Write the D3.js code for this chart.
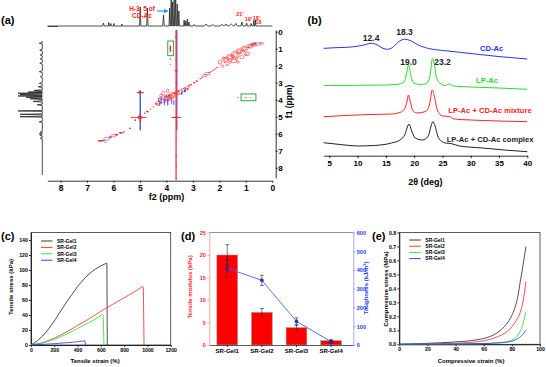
<!DOCTYPE html>
<html>
<head>
<meta charset="utf-8">
<script src="https://cdn.jsdelivr.net/npm/d3@7"></script>
<style>
body { margin: 0; background: #fff; }
svg { font-family: "Liberation Sans", Arial, sans-serif; font-weight: bold; }
</style>
</head>
<body>
<svg id="fig" width="546" height="367"></svg>
<script>
// ---------- data ----------
// (a) 1H NMR projections: [ppm, height, half width]
var a_top_peaks = [
	[6.38,3,0.03],[6.18,3.5,0.02],[6.10,2.5,0.02],[5.98,2.5,0.02],[5.68,2,0.02],
	[4.99,19,0.025],[4.72,18,0.025],[4.11,11,0.03],
	[3.88,18,0.02],[3.82,27,0.02],[3.77,24,0.02],[3.71,27,0.02],[3.65,27,0.02],[3.59,22,0.02],[3.53,15,0.02],
	[3.33,6,0.02],[3.27,5,0.02],[3.21,7,0.02],[3.15,4,0.02],
	[2.95,1.5,0.04],[2.50,2,0.06],[2.25,1.5,0.06],[1.90,1.5,0.08],[1.75,2,0.06],[1.55,2,0.08],
	[1.38,2.5,0.06],[1.15,4,0.04],[0.97,3,0.03],[0.80,2.5,0.03],[0.70,5.5,0.02],[0.64,6,0.02]
];
var a_left_peaks = [
	[0.68,3,0.04],[1.08,2.5,0.05],[1.37,2,0.05],[1.60,2,0.05],[1.86,2.5,0.05],[2.35,3,0.05],[2.65,2,0.05],
	[3.04,3,0.05],[3.24,4,0.04],[3.45,8,0.04],[3.55,14,0.04],[3.62,24,0.04],[3.70,22,0.04],[3.78,24,0.04],
	[3.86,16,0.04],[3.95,12,0.04],[4.10,9,0.04],[4.30,5,0.04],[4.66,24,0.03],[4.86,22,0.03],[5.00,22,0.03],
	[5.30,3,0.04],[5.90,2,0.04],[6.00,3,0.04],[6.10,2.5,0.04],[6.27,2,0.04]
];
// (a) COSY cross peaks: [f2, f1, rx, ry, style]  r/b filled, R/B contour
var cosy_blobs = [
	[6.50,6.42,0.10,0.05,'r'],[6.38,6.40,0.07,0.05,'b'],[6.25,6.30,0.12,0.08,'R'],[6.12,6.20,0.07,0.05,'b'],
	[6.00,6.12,0.10,0.07,'R'],[5.88,6.05,0.07,0.05,'r'],[5.72,5.95,0.08,0.05,'r'],[5.60,5.90,0.04,0.04,'b'],
	[6.30,6.50,0.03,0.03,'b'],[5.38,5.68,0.035,0.05,'r'],[5.18,5.20,0.035,0.05,'r'],
	[5.00,5.04,0.10,0.08,'r'],[5.00,3.57,0.07,0.07,'r'],[5.00,3.57,0.03,0.04,'b'],[4.72,4.70,0.05,0.05,'r'],
	[4.82,4.80,0.03,0.04,'b'],[4.60,4.55,0.03,0.03,'r'],[4.49,4.41,0.03,0.03,'r'],
	[4.40,4.25,0.05,0.04,'r'],[4.30,4.18,0.10,0.07,'R'],[4.15,4.08,0.12,0.10,'R'],[4.00,3.95,0.14,0.12,'R'],
	[3.88,3.82,0.15,0.14,'R'],[3.75,3.72,0.13,0.15,'R'],[3.50,3.55,0.12,0.12,'R'],[3.36,3.42,0.10,0.08,'R'],
	[3.22,3.30,0.10,0.06,'R'],[4.12,3.62,0.06,0.12,'R'],[3.95,3.48,0.05,0.10,'R'],[3.85,3.95,0.06,0.08,'R'],
	[4.22,3.90,0.05,0.06,'R'],[3.88,3.82,0.08,0.08,'R'],[4.00,3.95,0.07,0.06,'R'],[3.75,3.72,0.07,0.08,'R'],
	[3.60,3.62,0.10,0.10,'R'],[4.30,4.30,0.06,0.05,'R'],[3.30,3.35,0.06,0.05,'R'],[4.20,3.75,0.05,0.08,'R'],
	[4.20,4.05,0.02,0.22,'b'],[4.08,4.10,0.02,0.25,'b'],[3.95,4.15,0.025,0.22,'b'],[3.80,4.10,0.02,0.20,'b'],
	[4.30,4.00,0.02,0.12,'b'],[3.42,3.62,0.03,0.10,'b'],[3.30,3.50,0.04,0.08,'b'],[3.20,3.40,0.03,0.06,'b'],
	[4.25,4.20,0.02,0.15,'b'],[3.72,4.15,0.02,0.18,'b'],[4.02,3.80,0.06,0.04,'B'],
	[3.70,3.62,0.05,0.04,'r'],[3.55,3.50,0.05,0.04,'r'],[4.05,4.02,0.04,0.04,'r'],[3.90,3.78,0.05,0.05,'r'],
	[3.15,3.18,0.04,0.04,'r'],[3.08,3.12,0.05,0.04,'r'],[2.95,3.00,0.05,0.04,'r'],[2.85,2.90,0.05,0.04,'r'],
	[2.72,2.76,0.04,0.03,'r'],[2.65,2.68,0.04,0.03,'r'],[2.55,2.58,0.10,0.06,'R'],[2.45,2.47,0.11,0.07,'R'],
	[2.38,2.40,0.04,0.03,'r'],[2.30,2.32,0.04,0.03,'r'],[2.22,2.25,0.04,0.03,'r'],[2.15,2.20,0.04,0.03,'r'],
	[2.08,2.10,0.04,0.03,'r'],
	[1.98,1.78,0.07,0.12,'R'],[1.88,2.02,0.06,0.07,'R'],[1.75,1.65,0.12,0.15,'R'],[1.60,1.50,0.15,0.16,'R'],
	[1.45,1.72,0.10,0.10,'R'],[1.40,1.35,0.15,0.20,'R'],[1.25,1.15,0.12,0.15,'R'],[1.15,1.50,0.08,0.10,'R'],
	[1.05,1.00,0.13,0.15,'R'],[0.95,1.30,0.10,0.10,'R'],[0.85,0.85,0.12,0.12,'R'],[0.70,0.75,0.12,0.10,'R'],
	[0.55,0.72,0.12,0.08,'R'],[0.40,0.68,0.08,0.05,'R'],[1.30,1.78,0.06,0.06,'R'],[1.70,1.95,0.05,0.05,'R'],
	[1.50,1.45,0.06,0.07,'R'],[1.10,1.12,0.06,0.07,'R'],
	[1.60,1.50,0.08,0.09,'R'],[1.40,1.35,0.08,0.11,'R'],[1.05,1.00,0.07,0.08,'R'],[0.85,0.85,0.06,0.06,'R'],
	[1.75,1.65,0.06,0.08,'R'],[1.25,1.15,0.06,0.08,'R'],[0.70,0.75,0.06,0.05,'R'],[1.85,1.55,0.05,0.06,'R'],
	[1.60,1.80,0.05,0.06,'R'],[1.35,1.60,0.05,0.06,'R'],[1.00,1.35,0.05,0.05,'R'],
	[1.80,1.80,0.03,0.03,'r'],[1.50,1.55,0.03,0.03,'r'],[1.20,1.25,0.03,0.03,'r'],[0.90,0.92,0.04,0.04,'r'],
	[0.65,0.70,0.05,0.04,'r'],[0.75,0.76,0.06,0.04,'b'],[0.68,0.68,0.04,0.03,'b'],
	[3.63,0.30,0.04,0.05,'r'],[3.63,1.70,0.03,0.04,'r'],[3.63,2.30,0.08,0.03,'r'],[3.63,3.00,0.03,0.03,'r'],
	[3.63,6.20,0.03,0.03,'r'],[3.63,7.30,0.03,0.03,'b'],[3.63,7.90,0.03,0.04,'r'],[3.63,5.04,0.20,0.035,'r'],
	[3.85,1.00,0.03,0.20,'r'],[3.85,1.60,0.025,0.04,'r'],[3.85,1.95,0.02,0.03,'r'],
	[1.00,3.86,0.06,0.025,'r'],[0.82,3.86,0.04,0.025,'r'],[1.30,3.86,0.04,0.02,'r']
];
// [f2 start, f1 start, f2 end, f1 end, colour, width]
var cosy_lines = [
	[3.605,-0.1,3.605,5.8,'#2233ff',1.0],
	[3.635,-0.1,3.635,8.75,'#ff2222',1.2],
	[4.99,3.45,4.99,5.8,'#2233ff',1.2],
	[5.35,5.04,4.75,5.04,'#ff2222',0.9],
	[5.12,3.58,4.85,3.58,'#ff2222',0.9],
	[5.00,4.85,5.00,5.30,'#ff2222',0.9]
];
// green boxes [f2 left, f2 right, f1 top, f1 bottom]
var cosy_boxes = [[3.95,3.73,0.55,1.41],[1.18,0.62,3.66,4.06]];
var a_ticks = [8,7,6,5,4,3,2,1,0];

// (b) XRD patterns: [2theta, intensity (a.u., stacked)]
var xrd_cd = [[4,82.8],[6,83.3],[8,83.6],[10,84.4],[11.3,85.6],[12.4,86.7],[13.5,85.4],[14.5,82.8],[15.2,82.1],
	[16.2,83.5],[17.2,87.7],[18.3,89.8],[19.5,88.5],[20.7,85.4],[22.5,82.8],[25.4,81],[28,79.8],[31.3,78.2],[35,76.5],[40,74.6]];
var xrd_lp = [[4,54.1],[10,54.4],[15,54.6],[17,55.1],[18.2,56.9],[18.6,62.3],[19.0,70],[19.4,62.3],[19.9,56.2],[21,55],
	[22,55.4],[22.6,58.5],[23.0,67.7],[23.2,75],[23.5,72.3],[23.9,61.5],[24.5,56.2],[25.5,54.2],[26.2,55.4],[27,53.8],
	[30,53.1],[35,52.3],[40,51.3]];
var xrd_mix = [[4,30.2],[8,31.2],[12,31.9],[16,32.3],[17.5,33.5],[18.4,36.9],[18.7,41.5],[19.0,46.9],[19.3,42.3],[19.7,35.4],
	[20.5,33.1],[22,34.2],[22.7,39.2],[23.2,50.8],[23.6,45.4],[24.1,35.4],[25,30.8],[26.2,30.4],[27,28.5],[30,27.7],[35,26.9],[40,26.4]];
var xrd_cx = [[4,10.2],[7,8.8],[10,7.7],[13,8.1],[16,10],[17.5,12.3],[18.4,16.9],[18.8,22.3],[19.1,24.6],[19.5,20],[20.2,13.8],
	[21.5,12.3],[22.5,15.4],[23.0,23.1],[23.3,26.4],[23.7,23.1],[24.3,13.8],[25.5,10],[26.5,9.6],[28,7.7],[32,6.2],[36,4.6],[40,3.3]];
var xrd_names = ['CD-Ac','LP-Ac','LP-Ac + CD-Ac mixture','LP-Ac + CD-Ac complex'];
var xrd_peaks = [[12.4,86.7,'12.4'],[18.3,89.8,'18.3'],[19.0,70,'19.0'],[23.2,75,'23.2']];
var b_ticks = [5,10,15,20,25,30,35,40];

// (c) tensile curves [strain %, stress kPa]
var ten1 = [[0,0],[50,5],[100,12],[150,21],[200,32],[250,44],[300,56],[350,67],[400,78],[450,87],[500,95],[550,101],[600,105.5],[640,108.5],[652,109],[655,0]];
var ten2 = [[0,0],[100,3],[200,9],[300,17],[400,26],[500,35],[600,45],[700,54],[800,63],[900,72],[959,78],[965,77],[971,0]];
var ten3 = [[0,0],[100,2.5],[200,7.5],[300,14],[400,22],[500,30],[580,37],[613,41],[620,40],[627,0]];
var ten4 = [[0,0],[100,0.8],[200,1.8],[300,3],[400,4.3],[455,5.6],[462,5.5],[470,0]];
var gel_names = ['SR-Gel1','SR-Gel2','SR-Gel3','SR-Gel4'];
var c_xticks = [0,200,400,600,800,1000,1200];
var c_yticks = [0,20,40,60,80,100,120,140];

// (d) modulus and toughness
var modulus = [20.0, 7.25, 3.85, 0.96];
var modulus_err = [2.3, 0.85, 0.6, 0.2];
var toughness = [409, 345, 126, 18];
var toughness_err = [45, 27, 19, 8];
var d_lticks = [0,5,10,15,20,25];
var d_rticks = [0,100,200,300,400,500,600];

// (e) compression curves [strain %, stress MPa]
var comp1 = [[0,0],[10,0.003],[20,0.007],[30,0.011],[40,0.017],[50,0.025],[55,0.032],[60,0.042],[65,0.058],[70,0.085],[75,0.13],[78,0.17],[81,0.23],[84,0.33],[86,0.45],[88,0.57],[90,0.70]];
var comp2 = [[0,0],[20,0.003],[40,0.008],[50,0.013],[60,0.025],[65,0.037],[70,0.055],[75,0.08],[80,0.125],[83,0.17],[86,0.23],[88,0.31],[90,0.45]];
var comp3 = [[0,0],[40,0.002],[60,0.005],[70,0.01],[75,0.016],[80,0.03],[83,0.05],[86,0.095],[88,0.15],[90,0.235]];
var comp4 = [[0,0],[40,0.002],[60,0.006],[70,0.01],[76,0.015],[80,0.023],[84,0.04],[87,0.062],[90,0.1]];
var e_xticks = [0,20,40,60,80,100];
var e_yticks = [0,0.1,0.2,0.3,0.4,0.5,0.6,0.7,0.8];

// ---------- drawing ----------
var RED = '#ff2222', BLUE = '#2233ff', GREEN = '#22e022', BLK = '#222222';
var gel_colors = [BLK, RED, GREEN, BLUE];
var svg = d3.select('#fig');

function style_axis(g, fs, color, line_color)
{
	g.attr('font-size', fs).attr('font-family', null);
	g.selectAll('path, line').attr('stroke', line_color || color || '#000').attr('stroke-width', 0.8);
	g.selectAll('text').attr('fill', color || '#000');
}

function panel_label(x, y, t)
{
	svg.append('text').attr('x', x).attr('y', y).attr('font-size', 11).text(t);
}

function spectrum_points(peaks, lo, hi)
{
	var pts = [[hi, 0]];
	peaks.slice().sort(function(a, b) { return b[0] - a[0]; }).forEach(function(p) {
		pts.push([p[0] + p[2], 0], [p[0], p[1]], [p[0] - p[2], 0]);
	});
	pts.push([lo, 0]);
	return pts;
}

// ----- (a) -----
panel_label(1, 24, '(a)');
var a_x = d3.scaleLinear().domain([8.5, 0]).range([47.3, 272.3]);
var a_y = d3.scaleLinear().domain([0, 8]).range([31.7, 167.7]);
var a_top = d3.scaleLinear().domain([0, 26]).range([26, 0]);
var a_left = d3.scaleLinear().domain([0, 24]).range([42.3, 18]);

svg.append('path')
	.datum(spectrum_points(a_top_peaks, 0, 8.5))
	.attr('d', d3.line().x(function(d) { return a_x(d[0]); }).y(function(d) { return a_top(d[1]); }))
	.attr('fill', 'none').attr('stroke', BLK).attr('stroke-width', 0.8);

svg.append('path')
	.datum(spectrum_points(a_left_peaks, 0.55, 8.43).reverse())
	.attr('d', d3.line().x(function(d) { return a_left(d[1]); }).y(function(d) { return a_y(d[0]); }))
	.attr('fill', 'none').attr('stroke', BLK).attr('stroke-width', 0.8);

svg.append('line').attr('x1', 48).attr('x2', 58).attr('y1', 26.5).attr('y2', 26.5).attr('stroke', BLK).attr('stroke-width', 0.8);

svg.append('clipPath').attr('id', 'clip_a').append('rect')
	.attr('x', a_x(8.5)).attr('y', a_y(-0.12)).attr('width', a_x(0) - a_x(8.5)).attr('height', a_y(8.75) - a_y(-0.12));
var cosy = svg.append('g').attr('clip-path', 'url(#clip_a)');

cosy.selectAll('line.noise').data(cosy_lines).enter().append('line')
	.attr('x1', function(d) { return a_x(d[0]); }).attr('y1', function(d) { return a_y(d[1]); })
	.attr('x2', function(d) { return a_x(d[2]); }).attr('y2', function(d) { return a_y(d[3]); })
	.attr('stroke', function(d) { return d[4]; }).attr('stroke-width', function(d) { return d[5]; });

var px_f2 = Math.abs(a_x(1) - a_x(0)), px_f1 = a_y(1) - a_y(0);
cosy.selectAll('ellipse').data(cosy_blobs).enter().append('ellipse')
	.attr('cx', function(d) { return a_x(d[0]); })
	.attr('cy', function(d) { return a_y(d[1]); })
	.attr('rx', function(d) { return d[2] * px_f2; })
	.attr('ry', function(d) { return d[3] * px_f1; })
	.attr('fill', function(d) { return d[4] == 'r' ? RED : d[4] == 'b' ? BLUE : 'none'; })
	.attr('stroke', function(d) { return d[4] == 'R' ? '#ff3333' : d[4] == 'B' ? BLUE : 'none'; })
	.attr('stroke-width', 0.6)
	.attr('opacity', function(d) { return d[4] == 'b' ? 0.8 : 1; });

cosy.selectAll('rect.box').data(cosy_boxes).enter().append('rect')
	.attr('x', function(d) { return a_x(d[0]); }).attr('y', function(d) { return a_y(d[2]); })
	.attr('width', function(d) { return a_x(d[1]) - a_x(d[0]); }).attr('height', function(d) { return a_y(d[3]) - a_y(d[2]); })
	.attr('fill', 'none').attr('stroke', '#2aa84a').attr('stroke-width', 1);

var ax_a = svg.append('g').attr('transform', 'translate(0,180.7)')
	.call(d3.axisBottom(a_x).tickValues(a_ticks).tickFormat(d3.format('d')).tickSize(2).tickPadding(2).tickSizeOuter(0));
style_axis(ax_a, 8.5);
var a_y_ax = d3.scaleLinear().domain([-0.1, 8.6]).range([a_y(-0.1), a_y(8.6)]);
var ay_a = svg.append('g').attr('transform', 'translate(275.7,0)')
	.call(d3.axisRight(a_y_ax).tickValues(a_ticks.slice().reverse()).tickFormat(d3.format('d')).tickSize(2).tickPadding(0.5).tickSizeOuter(0));
style_axis(ay_a, 8);
svg.append('text').attr('x', a_x(4)).attr('y', 199.5).attr('text-anchor', 'middle').attr('font-size', 9).text('f2 (ppm)');
svg.append('text').attr('transform', 'translate(291.5,' + a_y(4.1) + ') rotate(-90)').attr('text-anchor', 'middle').attr('font-size', 8.5).text('f1 (ppm)');

svg.append('text').attr('x', 142).attr('y', 11).attr('text-anchor', 'middle').attr('font-size', 6.5).attr('fill', RED).text('H-3, 5 of');
svg.append('text').attr('x', 142).attr('y', 17.5).attr('text-anchor', 'middle').attr('font-size', 6.5).attr('fill', RED).text('CD-Ac');
svg.append('defs').append('marker').attr('id', 'arr').attr('viewBox', '0 0 6 6').attr('refX', 5).attr('refY', 3)
	.attr('markerWidth', 4).attr('markerHeight', 4).attr('orient', 'auto')
	.append('path').attr('d', 'M0,0L6,3L0,6Z').attr('fill', '#1ea0e6');
svg.append('line').attr('x1', a_x(4.35)).attr('x2', a_x(3.95)).attr('y1', 11).attr('y2', 11)
	.attr('stroke', '#1ea0e6').attr('stroke-width', 1.2).attr('marker-end', 'url(#arr)');
[["21'", 240, 15.5], ["19'", 248.5, 20.5], ["18'", 256.5, 19.5], ['18', 258.5, 24]].forEach(function(l) {
	svg.append('text').attr('x', l[1]).attr('y', l[2]).attr('text-anchor', 'middle').attr('font-size', 5.5).attr('fill', RED).text(l[0]);
});

// ----- (b) -----
panel_label(307.5, 24, '(b)');
var b_x = d3.scaleLinear().domain([4, 40]).range([323.6, 527.3]);
var b_y = d3.scaleLinear().domain([0, 100]).range([156, 26]);
var b_line = d3.line().curve(d3.curveMonotoneX).x(function(d) { return b_x(d[0]); }).y(function(d) { return b_y(d[1]); });
var xrd_sets = [xrd_cd, xrd_lp, xrd_mix, xrd_cx];
var xrd_colors = [BLUE, GREEN, RED, BLK];
svg.selectAll('path.xrd').data(xrd_sets).enter().append('path')
	.attr('d', b_line).attr('fill', 'none')
	.attr('stroke', function(d, i) { return xrd_colors[i]; }).attr('stroke-width', 1);
var xrd_label_pos = [[491.7, 51], [487, 82.7], [490, 112.7], [490, 142]];
xrd_names.forEach(function(n, i) {
	svg.append('text').attr('x', xrd_label_pos[i][0]).attr('y', xrd_label_pos[i][1]).attr('text-anchor', 'middle')
		.attr('font-size', 7.6).attr('fill', xrd_colors[i]).text(n);
});
var peak_dx = [0, 0, 0, 2], peak_dy = [-2, -4, -0.3, 6];
xrd_peaks.forEach(function(p, i) {
	svg.append('text').attr('x', b_x(p[0]) + peak_dx[i]).attr('y', b_y(p[1]) + peak_dy[i]).attr('text-anchor', i == 3 ? 'start' : 'middle')
		.attr('font-size', 8.5).attr('fill', BLK).text(p[2]);
});
var bx_a = svg.append('g').attr('transform', 'translate(0,155.7)')
	.call(d3.axisBottom(b_x).tickValues(b_ticks).tickSize(2.5).tickPadding(2).tickSizeOuter(0));
style_axis(bx_a, 8);
svg.append('text').attr('x', b_x(22)).attr('y', 185).attr('text-anchor', 'middle').attr('font-size', 9).text('2θ (deg)');

// ----- shared frame for (c) (e) -----
function xy_frame(x, y, xt, yt, xfmt, yfmt)
{
	var x0 = x.range()[0], x1 = x.range()[1], y0 = y.range()[0], y1 = y.range()[1];
	var g = svg.append('g');
	g.append('rect').attr('x', x0).attr('y', y1).attr('width', x1 - x0).attr('height', y0 - y1)
		.attr('fill', 'none').attr('stroke', '#333').attr('stroke-width', 0.8);
	var gx = g.append('g').attr('transform', 'translate(0,' + y0 + ')')
		.call(d3.axisBottom(x).tickValues(xt).tickFormat(xfmt).tickSize(2).tickPadding(1.5).tickSizeOuter(0));
	style_axis(gx, 5.2);
	var gy = g.append('g').attr('transform', 'translate(' + x0 + ',0)')
		.call(d3.axisLeft(y).tickValues(yt).tickFormat(yfmt).tickSize(2).tickPadding(1.2).tickSizeOuter(0));
	style_axis(gy, 5.2);
}

function legend(x, y0, dy)
{
	gel_names.forEach(function(n, i) {
		svg.append('line').attr('x1', x).attr('x2', x + 11.5).attr('y1', y0 + i * dy).attr('y2', y0 + i * dy)
			.attr('stroke', gel_colors[i]).attr('stroke-width', 0.9);
		svg.append('text').attr('x', x + 16).attr('y', y0 + i * dy + 1.8).attr('font-size', 5).text(n);
	});
}

// ----- (c) -----
panel_label(1, 239.5, '(c)');
var c_x = d3.scaleLinear().domain([0, 1200]).range([31, 170.7]);
var c_y = d3.scaleLinear().domain([0, 150]).range([345, 232.5]);
xy_frame(c_x, c_y, c_xticks, c_yticks, d3.format('d'), d3.format('d'));
var c_line = d3.line().x(function(d) { return c_x(d[0]); }).y(function(d) { return c_y(d[1]); });
svg.selectAll('path.ten').data([ten1, ten2, ten3, ten4]).enter().append('path')
	.attr('d', c_line).attr('fill', 'none')
	.attr('stroke', function(d, i) { return gel_colors[i]; }).attr('stroke-width', 0.8);
legend(41, 241, 6.4);
svg.append('text').attr('x', c_x(550)).attr('y', 363).attr('text-anchor', 'middle').attr('font-size', 6).text('Tensile strain (%)');
svg.append('text').attr('transform', 'translate(12.5,287) rotate(-90)').attr('text-anchor', 'middle').attr('font-size', 6).text('Tensile stress (kPa)');

// ----- (d) -----
panel_label(181, 239.5, '(d)');
var d_x = d3.scaleBand().domain(gel_names).range([209.3, 353.3]).paddingInner(0.4).paddingOuter(0.28).align(0.39);
var d_yl = d3.scaleLinear().domain([0, 25]).range([345, 232.5]);
var d_yr = d3.scaleLinear().domain([0, 600]).range([345, 232.5]);
var bw = d_x.bandwidth();
svg.append('line').attr('x1', 209.3).attr('x2', 353.3).attr('y1', 232.5).attr('y2', 232.5).attr('stroke', '#777').attr('stroke-width', 0.8);
svg.selectAll('rect.bar').data(modulus).enter().append('rect')
	.attr('x', function(d, i) { return d_x(gel_names[i]); }).attr('y', function(d) { return d_yl(d); })
	.attr('width', bw).attr('height', function(d) { return d_yl(0) - d_yl(d); })
	.attr('fill', '#ff0000').attr('stroke', '#999').attr('stroke-width', 0.6);

function err_bar(cx, ylo, yhi)
{
	svg.append('line').attr('x1', cx).attr('x2', cx).attr('y1', ylo).attr('y2', yhi).attr('stroke', '#222').attr('stroke-width', 0.6);
	[ylo, yhi].forEach(function(v) {
		svg.append('line').attr('x1', cx - 2).attr('x2', cx + 2).attr('y1', v).attr('y2', v).attr('stroke', '#222').attr('stroke-width', 0.6);
	});
}
modulus.forEach(function(m, i) {
	var cx = d_x(gel_names[i]) + bw / 2;
	err_bar(cx, d_yl(m - modulus_err[i]), d_yl(m + modulus_err[i]));
	err_bar(cx, d_yr(toughness[i] - toughness_err[i]), d_yr(toughness[i] + toughness_err[i]));
});
svg.append('path').datum(toughness)
	.attr('d', d3.line().x(function(d, i) { return d_x(gel_names[i]) + bw / 2; }).y(function(d) { return d_yr(d); }))
	.attr('fill', 'none').attr('stroke', '#4060ff').attr('stroke-width', 0.9);
svg.selectAll('circle.tough').data(toughness).enter().append('circle')
	.attr('cx', function(d, i) { return d_x(gel_names[i]) + bw / 2; }).attr('cy', function(d) { return d_yr(d); })
	.attr('r', 1.6).attr('fill', '#2233ff').attr('stroke', '#112').attr('stroke-width', 0.4);

var dx_a = svg.append('g').attr('transform', 'translate(0,345)')
	.call(d3.axisBottom(d_x).tickSize(2).tickPadding(2).tickSizeOuter(0));
style_axis(dx_a, 6);
dx_a.select('.domain').attr('stroke', '#333');
var dl_a = svg.append('g').attr('transform', 'translate(209.3,0)')
	.call(d3.axisLeft(d_yl).tickValues(d_lticks).tickSize(2).tickPadding(1.5).tickSizeOuter(0));
style_axis(dl_a, 5.5, RED, '#ff9090');
var dr_a = svg.append('g').attr('transform', 'translate(353.3,0)')
	.call(d3.axisRight(d_yr).tickValues(d_rticks).tickSize(2).tickPadding(1.5).tickSizeOuter(0));
style_axis(dr_a, 5.5, '#2233ff', '#9090ff');
svg.append('text').attr('transform', 'translate(192,287) rotate(-90)').attr('text-anchor', 'middle').attr('font-size', 6).attr('fill', RED).text('Tensile modulus (kPa)');
var tt = svg.append('text').attr('transform', 'translate(368,288) rotate(-90)').attr('text-anchor', 'middle').attr('font-size', 6).attr('fill', '#2233ff');
tt.append('tspan').text('Toughness (kJ/m');
tt.append('tspan').attr('font-size', 4).attr('dy', -2).text('3');
tt.append('tspan').attr('dy', 2).text(')');

// ----- (e) -----
panel_label(372, 239.5, '(e)');
var e_x = d3.scaleLinear().domain([0, 100]).range([399.3, 540]);
var e_y = d3.scaleLinear().domain([0, 0.8]).range([344.3, 232.5]);
xy_frame(e_x, e_y, e_xticks, e_yticks, d3.format('d'), d3.format('.1f'));
var e_line = d3.line().curve(d3.curveMonotoneX).x(function(d) { return e_x(d[0]); }).y(function(d) { return e_y(d[1]); });
svg.selectAll('path.comp').data([comp1, comp2, comp3, comp4]).enter().append('path')
	.attr('d', e_line).attr('fill', 'none')
	.attr('stroke', function(d, i) { return gel_colors[i]; }).attr('stroke-width', 0.8);
legend(409.3, 240, 6.2);
svg.append('text').attr('x', e_x(51)).attr('y', 363).attr('text-anchor', 'middle').attr('font-size', 6).text('Compressive strain (%)');
svg.append('text').attr('transform', 'translate(387.5,289) rotate(-90)').attr('text-anchor', 'middle').attr('font-size', 6).text('Compressive stress (MPa)');
</script>
</body>
</html>
